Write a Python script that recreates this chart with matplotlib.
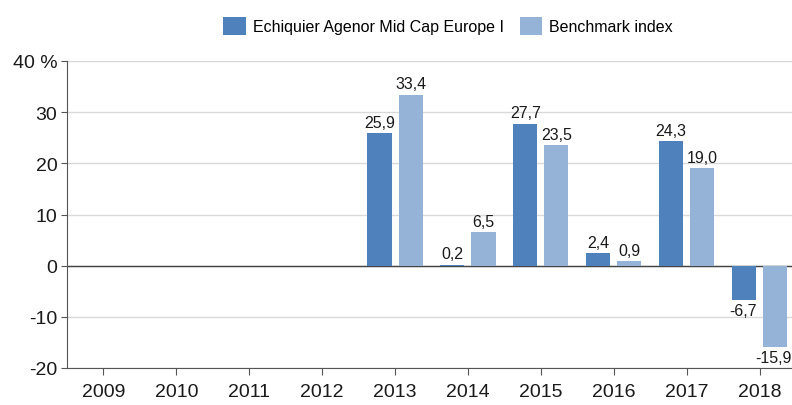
import matplotlib.pyplot as plt
import numpy as np

plt.rcParams['font.family'] = ['Liberation Sans', 'DejaVu Sans']

# Annual performance, %
years = ['2009', '2010', '2011', '2012', '2013', '2014', '2015', '2016', '2017', '2018']
fund = [np.nan, np.nan, np.nan, np.nan, 25.9, 0.2, 27.7, 2.4, 24.3, -6.7]
bench = [np.nan, np.nan, np.nan, np.nan, 33.4, 6.5, 23.5, 0.9, 19.0, -15.9]
y_ticks = [-20, -10, 0, 10, 20, 30, 40]
y_labels = ['-20', '-10', '0', '10', '20', '30', '40 %']

dark = '#4F81BD'
light = '#95B3D7'

fig = plt.figure(figsize=(7.92, 4.06), dpi=100)
ax = fig.add_axes([67 / 792, 37 / 406, 729 / 792, 307 / 406])

x = np.arange(len(years))
w = 0.33
off = 0.213
b1 = ax.bar(x - off, fund, w, color=dark, linewidth=0,
            label='Echiquier Agenor Mid Cap Europe I', zorder=3)
b2 = ax.bar(x + off, bench, w, color=light, linewidth=0,
            label='Benchmark index', zorder=3)

# value labels, comma as decimal separator
for bars, vals in [(b1, fund), (b2, bench)]:
    for bar, v in zip(bars, vals):
        if np.isnan(v):
            continue
        cx = bar.get_x() + bar.get_width() / 2
        txt = f'{v:.1f}'.replace('.', ',')
        if v >= 0:
            ax.annotate(txt, (cx, v), xytext=(0, 2.5), textcoords='offset points',
                        ha='center', va='bottom', fontsize=11.5, color='#1a1a1a')
        else:
            ax.annotate(txt, (cx, v), xytext=(-1, -2), textcoords='offset points',
                        ha='center', va='top', fontsize=11.5, color='#1a1a1a')

ax.set_xlim(-0.5, 9.5)
ax.set_ylim(-20, 40)
ax.set_yticks(y_ticks)
ax.set_yticklabels(y_labels, fontsize=14, color='#1a1a1a')
ax.set_xticks(x)
ax.set_xticklabels(years, fontsize=14, color='#1a1a1a')
ax.tick_params(axis='x', length=5, color='#555555', pad=6)
ax.tick_params(axis='y', length=4, color='#555555', pad=3)

ax.grid(axis='y', color='#d9d9d9', linewidth=1, zorder=0)
ax.axhline(0, color='#444444', linewidth=1, zorder=2)
for s in ['top', 'right']:
    ax.spines[s].set_visible(False)
ax.spines['left'].set_color('#555555')
ax.spines['bottom'].set_color('#555555')

fig.legend(loc='center', bbox_to_anchor=(448 / 792, 1 - 27 / 406), ncol=2, frameon=False,
           fontsize=11.5, handlelength=1.4, handleheight=1.4, columnspacing=1.0,
           handletextpad=0.45, borderpad=0)

fig.savefig('out.png', dpi=100)
